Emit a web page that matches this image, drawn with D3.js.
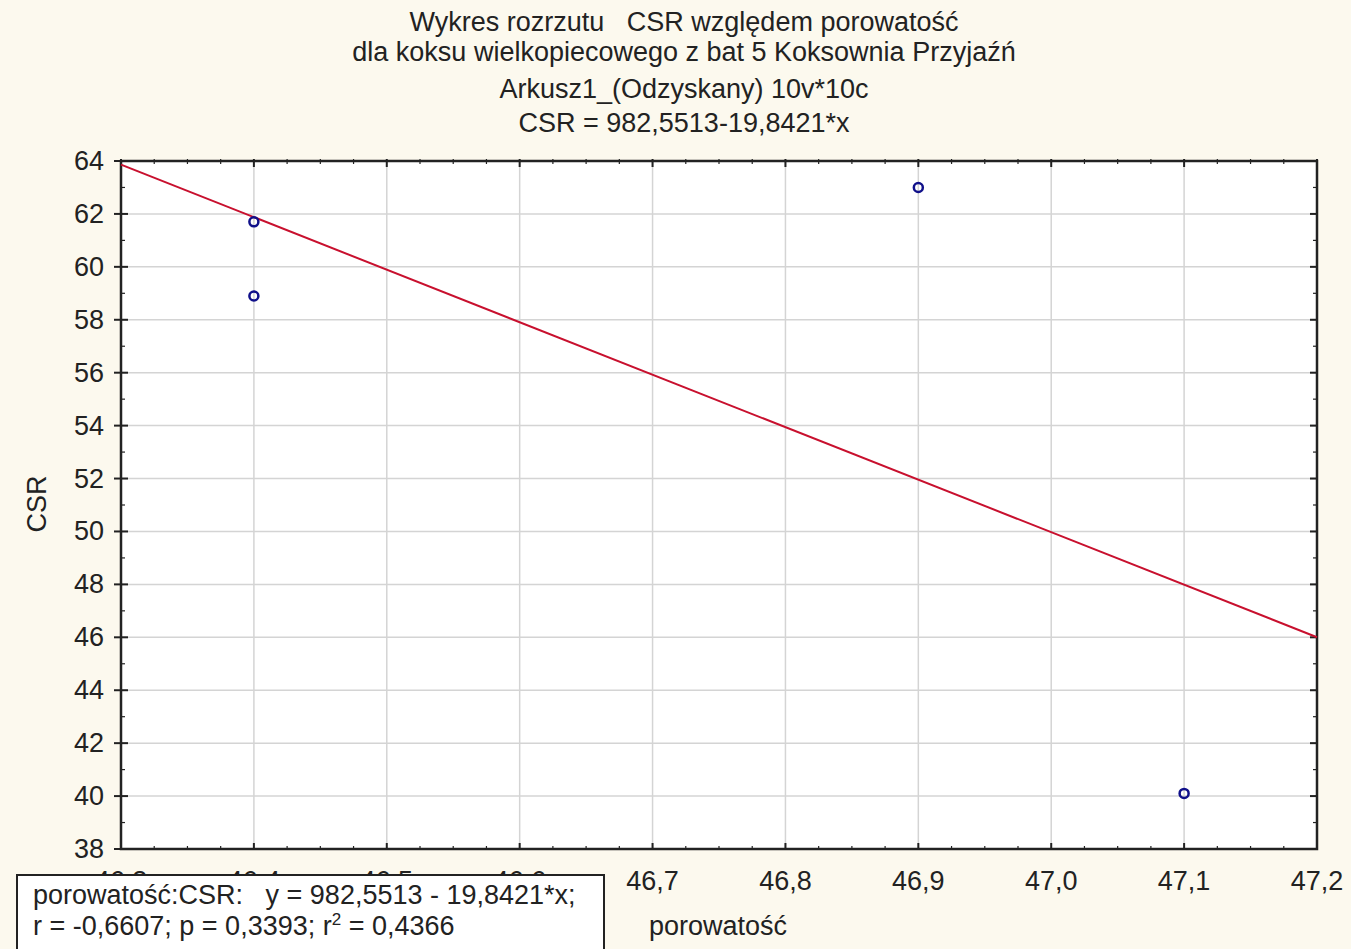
<!DOCTYPE html>
<html>
<head>
<meta charset="utf-8">
<script src="https://cdn.jsdelivr.net/npm/d3@7"></script>
<style>
  body { margin: 0; background: #fcf9ee; }
  svg text { font-family: "Liberation Sans", Arial, sans-serif; fill: #222; }
</style>
</head>
<body>
<div id="chart"></div>
<script>
// data
var porowatosc = [46.4, 46.4, 46.9, 47.1];
var csr = [61.7, 58.9, 63.0, 40.1];
var intercept = 982.5513, slope = -19.8421;
var xTicks = [46.3, 46.4, 46.5, 46.6, 46.7, 46.8, 46.9, 47.0, 47.1, 47.2];
var yTicks = [38, 40, 42, 44, 46, 48, 50, 52, 54, 56, 58, 60, 62, 64];
var titleLines = [
  "Wykres rozrzutu\u00a0\u00a0\u00a0CSR względem porowatość",
  "dla koksu wielkopiecowego z bat 5 Koksownia Przyjaźń",
  "Arkusz1_(Odzyskany) 10v*10c",
  "CSR = 982,5513-19,8421*x"
];
var xName = "porowatość", yName = "CSR";

var W = 1351, H = 949;
var M = { left: 121, right: 1317, top: 161, bottom: 849 };
var FS = 27;
var fmt = function(d) { return d3.format(".1f")(d).replace(".", ","); };

var svg = d3.select("#chart").append("svg")
  .attr("width", W).attr("height", H);

svg.append("rect").attr("width", W).attr("height", H).attr("fill", "#fcf9ee");

var x = d3.scaleLinear().domain([46.3, 47.2]).range([M.left, M.right]);
var y = d3.scaleLinear().domain([38, 64]).range([M.bottom, M.top]);

// plot background
svg.append("rect")
  .attr("x", M.left).attr("y", M.top)
  .attr("width", M.right - M.left).attr("height", M.bottom - M.top)
  .attr("fill", "#fff");

// grid
svg.append("g").selectAll("line").data(xTicks).join("line")
  .attr("x1", d => x(d)).attr("x2", d => x(d))
  .attr("y1", M.top).attr("y2", M.bottom)
  .attr("stroke", "#d4d4d4").attr("stroke-width", 1.5);
svg.append("g").selectAll("line").data(yTicks).join("line")
  .attr("x1", M.left).attr("x2", M.right)
  .attr("y1", d => y(d)).attr("y2", d => y(d))
  .attr("stroke", "#d4d4d4").attr("stroke-width", 1.5);

// ticks (minor every 0.025 on x, every 1 on y)
var xMinor = d3.range(0, 37).map(i => 46.3 + i * 0.025);
var yMinor = d3.range(38, 65, 1);
var tk = svg.append("g").attr("stroke", "#222");
xMinor.forEach(function(d, i) {
  var major = i % 4 === 0, len = major ? 6 : 3;
  tk.append("line").attr("x1", x(d)).attr("x2", x(d))
    .attr("y1", M.bottom - len).attr("y2", M.bottom + (major ? 0 : 1)).attr("stroke-width", major ? 2 : 1.2);
  tk.append("line").attr("x1", x(d)).attr("x2", x(d))
    .attr("y1", M.top - 2).attr("y2", M.top + len).attr("stroke-width", major ? 2 : 1.2);
});
yMinor.forEach(function(d) {
  var major = d % 2 === 0, len = major ? 7 : 4;
  tk.append("line").attr("x1", M.left - (major ? 7 : 0)).attr("x2", M.left + len)
    .attr("y1", y(d)).attr("y2", y(d)).attr("stroke-width", major ? 2 : 1.2);
  tk.append("line").attr("x1", M.right - len).attr("x2", M.right)
    .attr("y1", y(d)).attr("y2", y(d)).attr("stroke-width", major ? 2 : 1.2);
});

// border
svg.append("rect")
  .attr("x", M.left).attr("y", M.top)
  .attr("width", M.right - M.left).attr("height", M.bottom - M.top)
  .attr("fill", "none").attr("stroke", "#222").attr("stroke-width", 2.5);

// regression line
svg.append("line")
  .attr("x1", x(46.3)).attr("y1", y(intercept + slope * 46.3))
  .attr("x2", x(47.2)).attr("y2", y(intercept + slope * 47.2))
  .attr("stroke", "#c8102e").attr("stroke-width", 2);

// points
svg.append("g").selectAll("circle").data(porowatosc).join("circle")
  .attr("cx", d => x(d)).attr("cy", (d, i) => y(csr[i]))
  .attr("r", 4.5).attr("fill", "none")
  .attr("stroke", "#10108a").attr("stroke-width", 2.5);

// tick labels
svg.append("g").selectAll("text").data(yTicks).join("text")
  .attr("x", 104).attr("y", d => y(d) + 9)
  .attr("text-anchor", "end").attr("font-size", FS)
  .text(d => d);
svg.append("g").selectAll("text").data(xTicks).join("text")
  .attr("x", d => x(d)).attr("y", 890)
  .attr("text-anchor", "middle").attr("font-size", FS)
  .text(fmt);

// axis names
svg.append("text").attr("x", 718).attr("y", 935)
  .attr("text-anchor", "middle").attr("font-size", FS).text(xName);
svg.append("text").attr("transform", "translate(46,504) rotate(-90)")
  .attr("text-anchor", "middle").attr("font-size", FS).text(yName);

// title
var titleY = [31, 61, 98, 132];
svg.append("g").selectAll("text").data(titleLines).join("text")
  .attr("x", 684).attr("y", (d, i) => titleY[i])
  .attr("text-anchor", "middle").attr("font-size", FS)
  .text(d => d);

// stats box (drawn over the first x labels, as in the source)
var box = svg.append("g");
box.append("rect").attr("x", 17).attr("y", 875).attr("width", 587).attr("height", 90)
  .attr("fill", "#fff").attr("stroke", "#222").attr("stroke-width", 2);
box.append("text").attr("x", 33).attr("y", 904).attr("font-size", FS)
  .text("porowatość:CSR:\u00a0\u00a0\u00a0y = 982,5513 - 19,8421*x;");
var t2 = box.append("text").attr("x", 33).attr("y", 935).attr("font-size", FS);
t2.append("tspan").text("r = -0,6607; p = 0,3393; r");
t2.append("tspan").attr("dy", -10).attr("font-size", 17).text("2");
t2.append("tspan").attr("dy", 10).text(" = 0,4366");
</script>
</body>
</html>
